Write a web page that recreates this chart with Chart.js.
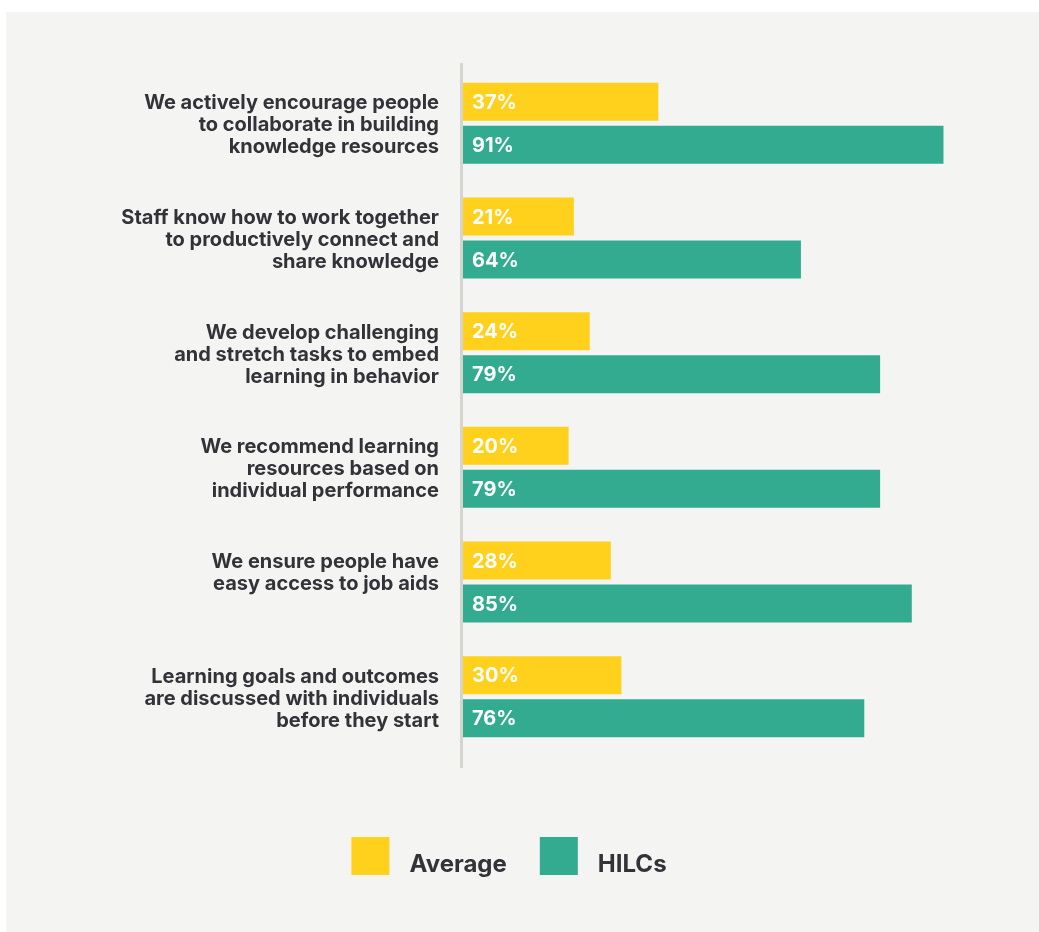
<!DOCTYPE html>
<html>
<head>
<meta charset="utf-8">
<script src="https://cdn.jsdelivr.net/npm/chart.js@4/dist/chart.umd.min.js"></script>
<style>
  html, body { margin: 0; padding: 0; background: #ffffff; }
  #panel { position: absolute; left: 6px; top: 12px; width: 1033px; height: 920px; background: #f4f4f2; }
  #chart { position: absolute; left: 0; top: 0; }
</style>
</head>
<body>
<div id="panel"></div>
<canvas id="chart" width="1039" height="932"></canvas>
<script>
// statements (each label split into its printed lines)
const statements = [
  ['We actively encourage people', 'to collaborate in building', 'knowledge resources'],
  ['Staff know how to work together', 'to productively connect and', 'share knowledge'],
  ['We develop challenging', 'and stretch tasks to embed', 'learning in behavior'],
  ['We recommend learning', 'resources based on', 'individual performance'],
  ['We ensure people have', 'easy access to job aids'],
  ['Learning goals and outcomes', 'are discussed with individuals', 'before they start']
];
const averageValues = [37, 21, 24, 20, 28, 30];
const hilcValues = [91, 64, 79, 79, 85, 76];

const YELLOW = '#ffd01c';
const TEAL = '#33ab91';
const TEXT = '#333238';
const FONT = 'Inter, "DejaVu Sans", sans-serif';

// pad two-line labels to three so the first line sits level with the yellow bar
const tickLabels = statements.map(lines => lines.length < 3 ? lines.concat(['']) : lines);

// vertical rule left of the bars
const axisLine = {
  id: 'axisLine',
  beforeDatasetsDraw(chart) {
    const { ctx, chartArea } = chart;
    ctx.save();
    ctx.strokeStyle = '#d6d4ce';
    ctx.lineWidth = 3;
    ctx.beginPath();
    ctx.moveTo(chartArea.left - 1.5, chartArea.top - 3);
    ctx.lineTo(chartArea.left - 1.5, chartArea.bottom + 14);
    ctx.stroke();
    ctx.restore();
  }
};

// percentage text inside each bar
const barValues = {
  id: 'barValues',
  afterDatasetsDraw(chart) {
    const { ctx } = chart;
    ctx.save();
    ctx.fillStyle = '#ffffff';
    ctx.font = '700 20px ' + FONT;
    ctx.textAlign = 'left';
    ctx.textBaseline = 'middle';
    chart.data.datasets.forEach((ds, di) => {
      chart.getDatasetMeta(di).data.forEach((bar, i) => {
        ctx.fillText(ds.data[i] + '%', bar.base + 9, bar.y + 1);
      });
    });
    ctx.restore();
  }
};

// legend under the chart, text sitting low against the swatches
const bottomLegend = {
  id: 'bottomLegend',
  afterDraw(chart) {
    const { ctx } = chart;
    const box = 38, gap = 20, spacing = 33, top = 837;
    ctx.save();
    ctx.font = '700 24px ' + FONT;
    ctx.textBaseline = 'alphabetic';
    ctx.textAlign = 'left';
    const items = chart.data.datasets.map(ds => ({ text: ds.label, color: ds.backgroundColor }));
    const total = items.reduce((s, it) => s + box + gap + ctx.measureText(it.text).width, 0) + spacing * (items.length - 1);
    let x = 509 - total / 2;
    items.forEach(it => {
      ctx.fillStyle = it.color;
      ctx.fillRect(x, top, box, box);
      x += box + gap;
      ctx.fillStyle = TEXT;
      ctx.fillText(it.text, x, top + 35);
      x += ctx.measureText(it.text).width + spacing;
    });
    ctx.restore();
  }
};

new Chart(document.getElementById('chart'), {
  type: 'bar',
  data: {
    labels: tickLabels,
    datasets: [
      { label: 'Average', data: averageValues, backgroundColor: YELLOW },
      { label: 'HILCs', data: hilcValues, backgroundColor: TEAL }
    ]
  },
  options: {
    indexAxis: 'y',
    responsive: false,
    animation: false,
    categoryPercentage: 0.75,
    barPercentage: 0.884,
    layout: { padding: { top: 66, right: 48, bottom: 178, left: 0 } },
    plugins: {
      legend: { display: false },
      tooltip: { enabled: false }
    },
    scales: {
      x: { display: false, min: 0, max: 100 },
      y: {
        afterFit(scale) { scale.width = 463; },
        grid: { display: false, drawTicks: false },
        border: { display: false },
        ticks: {
          padding: 24,
          labelOffset: 2,
          color: TEXT,
          font: { family: FONT, size: 20, weight: '700', lineHeight: 1.1 }
        }
      }
    }
  },
  plugins: [axisLine, barValues, bottomLegend]
});
</script>
</body>
</html>
